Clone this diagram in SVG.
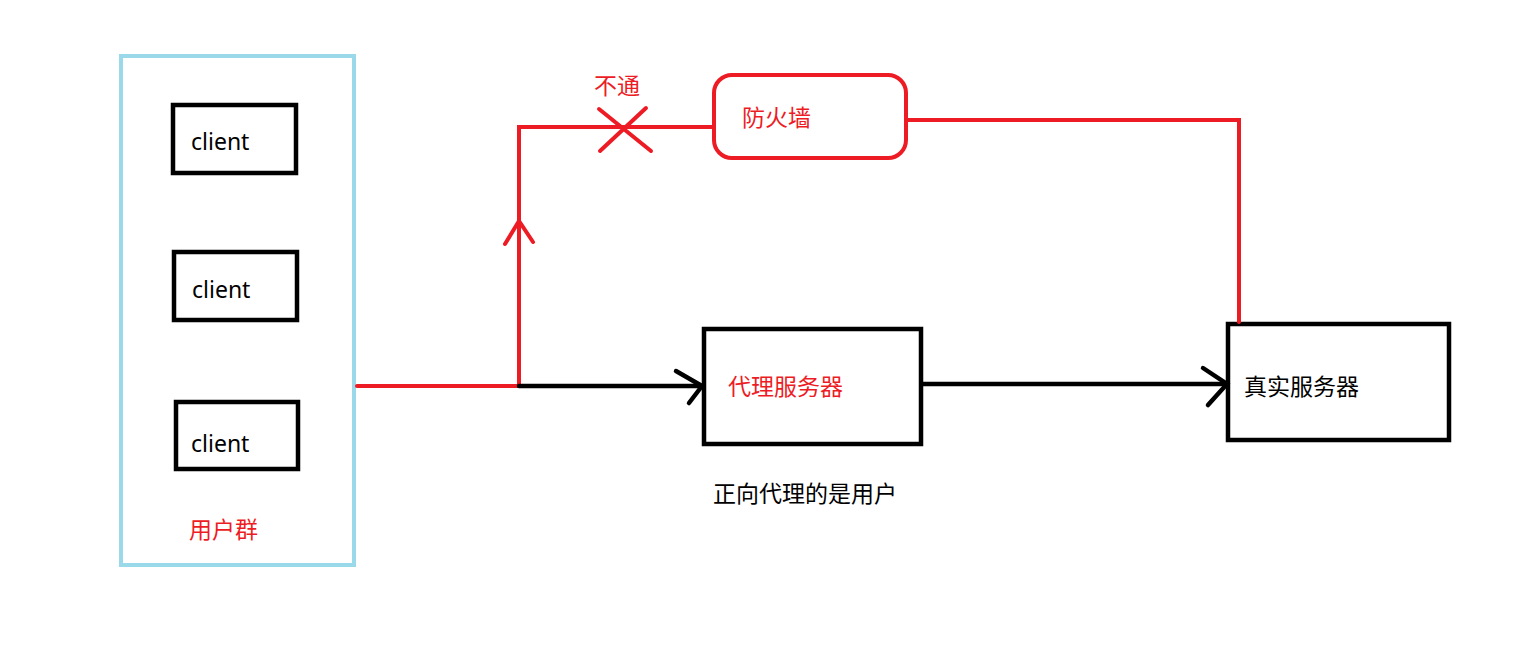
<svg xmlns="http://www.w3.org/2000/svg" width="1522" height="647" viewBox="0 0 1522 647">
<style>
.box{fill:#fff;stroke:#000;stroke-width:4.5}
.red{stroke:#ED1C24;stroke-width:4;fill:none;stroke-linecap:round}
.blk{stroke:#000;stroke-width:4.5;fill:none;stroke-linecap:round}
.t{font-family:"Noto Sans","Noto Sans CJK SC",sans-serif;font-size:23px;fill:#000}
.tr{fill:#ED1C24}
</style>
<rect width="1522" height="647" fill="#fff"/>
<g id="users">
<rect x="121" y="56" width="233" height="509" fill="none" stroke="#99D9EA" stroke-width="4"/>
<text class="t tr" x="189" y="538">用户群</text>
</g>
<g id="client1">
<rect class="box" x="173" y="105" width="123" height="68"/>
<text class="t" x="191" y="150">client</text>
</g>
<g id="client2">
<rect class="box" x="174" y="252" width="123" height="68"/>
<text class="t" x="192" y="298">client</text>
</g>
<g id="client3">
<rect class="box" x="176" y="402" width="122" height="67"/>
<text class="t" x="191" y="452">client</text>
</g>
<g id="firewall">
<rect x="714" y="75" width="192" height="83" rx="18" fill="#fff" stroke="#ED1C24" stroke-width="4"/>
<text class="t tr" x="742" y="126">防火墙</text>
</g>
<g id="proxy">
<rect class="box" x="704" y="329" width="217" height="115"/>
<text class="t tr" x="728" y="395">代理服务器</text>
</g>
<g id="server">
<rect class="box" x="1228" y="324" width="221" height="116"/>
<text class="t" x="1244" y="395">真实服务器</text>
</g>
<g id="note">
<text class="t" x="713" y="502">正向代理的是用户</text>
</g>
<g id="blocked">
<text class="t tr" x="594" y="94">不通</text>
</g>
<g id="connectors">
<path class="red" d="M357 386 H519"/>
<path class="red" d="M519 386 V127 H712"/>
<path class="red" d="M505 244 L519 221 L533 242"/>
<path class="red" d="M599 109 L651 151 M646 108 L600 151"/>
<path class="red" d="M908 120 H1239 V322"/>
<path class="blk" d="M519 386 H702"/>
<path class="blk" d="M676 371 L702 386 L689 403"/>
<path class="blk" d="M923 384 H1226"/>
<path class="blk" d="M1203 368 L1227 384 L1208 405"/>
</g>
</svg>
